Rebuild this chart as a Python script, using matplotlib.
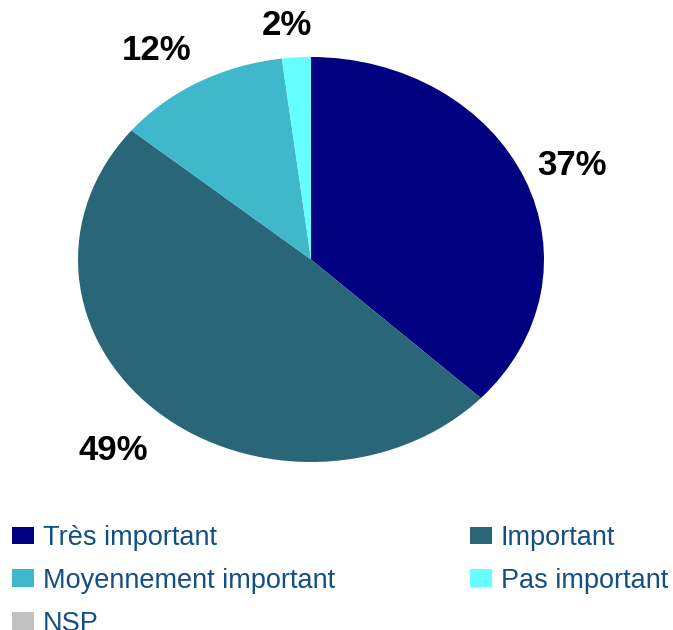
import numpy as np
import matplotlib.pyplot as plt

# importance ratings, share of answers in %
categories = ['Très important', 'Important', 'Moyennement important', 'Pas important', 'NSP']
shares = [37, 49, 12, 2, 0]
colors = ['#000080', '#296677', '#40B8CC', '#66FFFF', '#C0C0C0']

plt.rcParams['font.family'] = ['Liberation Sans', 'DejaVu Sans']

fig = plt.figure(figsize=(6.73, 6.30), dpi=100)
# pie drawn in a stretched axes, so it comes out as an ellipse
ax = fig.add_axes([78 / 673, 1 - 462 / 630, 466 / 673, 405 / 630])

wedges = ax.pie(shares, colors=colors, startangle=90, counterclock=False,
                radius=1, wedgeprops=dict(linewidth=0))[0]
ax.set_aspect('auto')

# percentage labels just outside the rim of each wedge (offsets in pixels)
label_offsets = [(47, 14), (-44, -39), (-42, 32), (-9, 32), (0, 0)]
for w, share, off in zip(wedges, shares, label_offsets):
    if share <= 0:
        continue
    mid = np.deg2rad((w.theta1 + w.theta2) / 2)
    ax.annotate(f'{share}%', xy=(np.cos(mid), np.sin(mid)), xytext=off,
                textcoords='offset pixels', ha='center', va='center',
                fontsize=25, fontweight='bold', color='black')

ax.set_xlim(-1, 1)
ax.set_ylim(-1, 1)
ax.axis('off')

# legend filled row by row over two columns
order = [0, 2, 4, 1, 3]
top = 1 - 525 / 630
leg = fig.legend([wedges[i] for i in order], [categories[i] for i in order],
                 ncol=2, loc='upper left', bbox_to_anchor=(12 / 673, top - 0.2, 0.975, 0.2),
                 mode='expand', frameon=False, fontsize=19.5, borderaxespad=0, borderpad=0,
                 handlelength=0.8, handleheight=0.64, handletextpad=0.34, labelspacing=0.62)
for t in leg.get_texts():
    t.set_color('#134F85')

fig.savefig('out.png', dpi=100)
